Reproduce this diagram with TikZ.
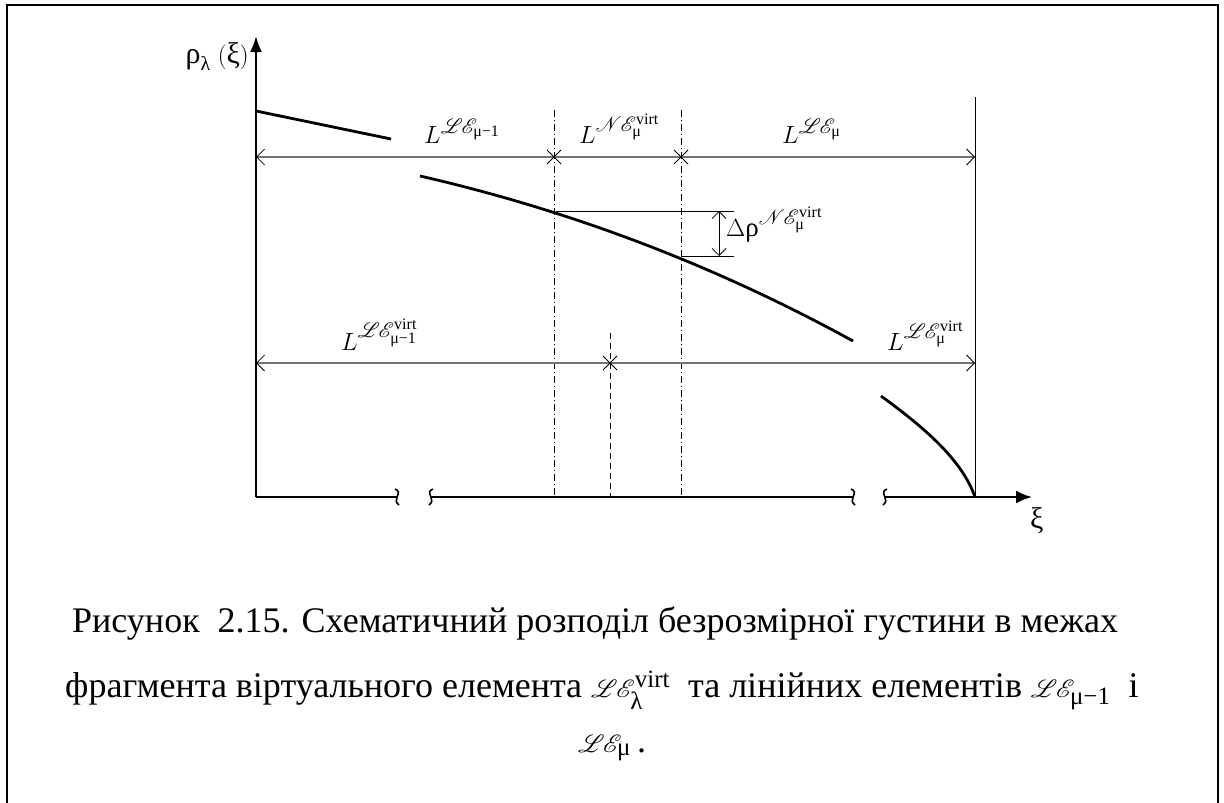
\documentclass[tikz,border=0pt]{standalone}
\usepackage{amsmath}
\usepackage{mathrsfs}
\usepackage{fontspec}
\setmainfont{Liberation Serif}
\usetikzlibrary{arrows.meta,calc}
\DeclareMathSizes{27}{27}{20}{16}
\DeclareMathSizes{30}{30}{20}{16}
\DeclareMathSizes{36}{36}{25}{19}
\newcommand{\LE}{\mathscr{L}\mskip-1mu\mathscr{E}}
\newcommand{\NE}{\mathscr{N}\mskip-1mu\mathscr{E}}
\begin{document}
\begin{tikzpicture}[x=1pt,y=-1pt,
  frameline/.style={line width=2pt},
  axis/.style={line width=2.2pt},
  curve/.style={line width=2.8pt},
  dimline/.style={draw=black!55,line width=1.4pt},
  dimarrows/.style={{Straight Barb[length=8pt,width=16pt,line width=0.8pt,black]}-{Straight Barb[length=8pt,width=16pt,line width=0.8pt,black]}},
  xmark/.style={line width=1pt},
  dashdotline/.style={line width=0.8pt,dash pattern=on 7pt off 3pt on 1pt off 3pt},
  dashline/.style={line width=0.8pt,dash pattern=on 6pt off 4pt},
  brk/.style={line width=1.6pt},
  lab/.style={inner sep=0pt,font=\fontsize{27}{30}\selectfont},
  captext/.style={inner sep=0pt,anchor=base west,font=\fontsize{36}{40}\selectfont}
]
\useasboundingbox (0,0) rectangle (1224,803);
% frame (open at bottom)
\draw[frameline] (7,803) -- (7,5) -- (1218,5) -- (1218,803);

% coordinates
\coordinate (O) at (256,497);
\coordinate (Ytop) at (256,36);
\coordinate (R0) at (975,497);
\coordinate (Rtop) at (975,97);
\coordinate (Ae) at (398,497);
\coordinate (Bs) at (430,497);
\coordinate (Be) at (853,497);
\coordinate (Cs) at (884,497);
\coordinate (Xtip) at (1032,497);

% axes
\draw[axis,-{Latex[length=16pt,width=12pt]}] (O) -- (Ytop);
\draw[axis] (O) -- (Ae);
\draw[axis] (Bs) -- (Be);
\draw[axis,-{Latex[length=16pt,width=13pt]}] (Cs) -- (Xtip);
% break marks
\draw[brk] (395,489) .. controls (404,492) and (391,500) .. (399,505);
\draw[brk] (433,489) .. controls (424,492) and (437,500) .. (429,505);
\draw[brk] (851,489) .. controls (860,492) and (847,500) .. (855,505);
\draw[brk] (887,489) .. controls (878,492) and (891,500) .. (883,505);

\node[lab,anchor=base east,font=\fontsize{30}{32}\selectfont] (ylab) at (249,63) {$\text{ρ}_{\text{λ}}\;(\text{ξ})$};
\node[lab,anchor=base west,font=\fontsize{30}{32}\selectfont] (xlab) at (1030,528) {ξ};

% right vertical line
\draw[line width=1pt] (R0) -- (Rtop);

% vertical dash-dot and dashed lines
\coordinate (D1t) at (554,110); \coordinate (D1b) at (554,497);
\coordinate (D2t) at (681,110); \coordinate (D2b) at (681,497);
\coordinate (D3t) at (610,333); \coordinate (D3b) at (610,497);
\draw[dashdotline] (D1t) -- (D1b);
\draw[dashdotline] (D2t) -- (D2b);
\draw[dashline] (D3t) -- (D3b);

% curves
\draw[curve] (256,111) -- (391,139);
\draw[curve] (420,176) .. controls (564,209) and (709,262) .. (853,341);
\draw[curve] (881,396) .. controls (925,428) and (962,460) .. (975,497);

% top dimension line
\coordinate (T0) at (256,157); \coordinate (T1) at (975,157);
\draw[dimline,dimarrows] (T0) -- (T1);
\coordinate (X1) at (554,157); \coordinate (X2) at (681,157);
\foreach \p in {X1,X2}{
  \draw[xmark] ($(\p)+(-7,-7)$) -- ($(\p)+(7,7)$);
  \draw[xmark] ($(\p)+(-7,7)$) -- ($(\p)+(7,-7)$);
}

% lower dimension line
\coordinate (B0) at (256,363); \coordinate (B1) at (975,363);
\draw[dimline,dimarrows] (B0) -- (B1);
\coordinate (X3) at (610,363);
\draw[xmark] ($(X3)+(-7,-7)$) -- ($(X3)+(7,7)$);
\draw[xmark] ($(X3)+(-7,7)$) -- ($(X3)+(7,-7)$);

% delta rho
\coordinate (H1a) at (556,211); \coordinate (H1b) at (734,211);
\coordinate (H2a) at (681,256); \coordinate (H2b) at (734,256);
\draw[line width=0.8pt] (H1a) -- (H1b);
\draw[line width=0.8pt] (H2a) -- (H2b);
\coordinate (Va) at (719,211); \coordinate (Vb) at (719,256);
\draw[line width=0.8pt,{Straight Barb[length=7pt,width=14pt]}-{Straight Barb[length=7pt,width=14pt]}] (Va) -- (Vb);
\node[lab,anchor=base west] (drho) at (726,236) {$\Delta\text{ρ}^{\NE_{\text{μ}}^{\text{virt}}}$};

% labels
\node[lab,anchor=base west] (l1) at (424,143) {$L^{\LE_{\text{μ−1}}}$};
\node[lab,anchor=base west] (l2) at (579,143) {$L^{\NE_{\text{μ}}^{\text{virt}}}$};
\node[lab,anchor=base west] (l3) at (782,143) {$L^{\LE_{\text{μ}}}$};
\node[lab,anchor=base west] (l4) at (341,350) {$L^{\LE_{\text{μ−1}}^{\text{virt}}}$};
\node[lab,anchor=base west] (l5) at (887,350) {$L^{\LE_{\text{μ}}^{\text{virt}}}$};

% caption
\node[captext] (c1) at (72,632) {Рисунок\ \ 2.15. Схематичний розподіл безрозмірної густини в межах};
\node[captext] (c2) at (65,697) {фрагмента віртуального елемента $\LE_{\text{λ}}^{\text{virt}}$\ \ та лінійних елементів $\LE_{\text{μ−1}}$\ \ і};
\node[captext,anchor=base] (c3) at (612,752) {$\LE_{\text{μ}}$\,.};
\end{tikzpicture}
\end{document}
